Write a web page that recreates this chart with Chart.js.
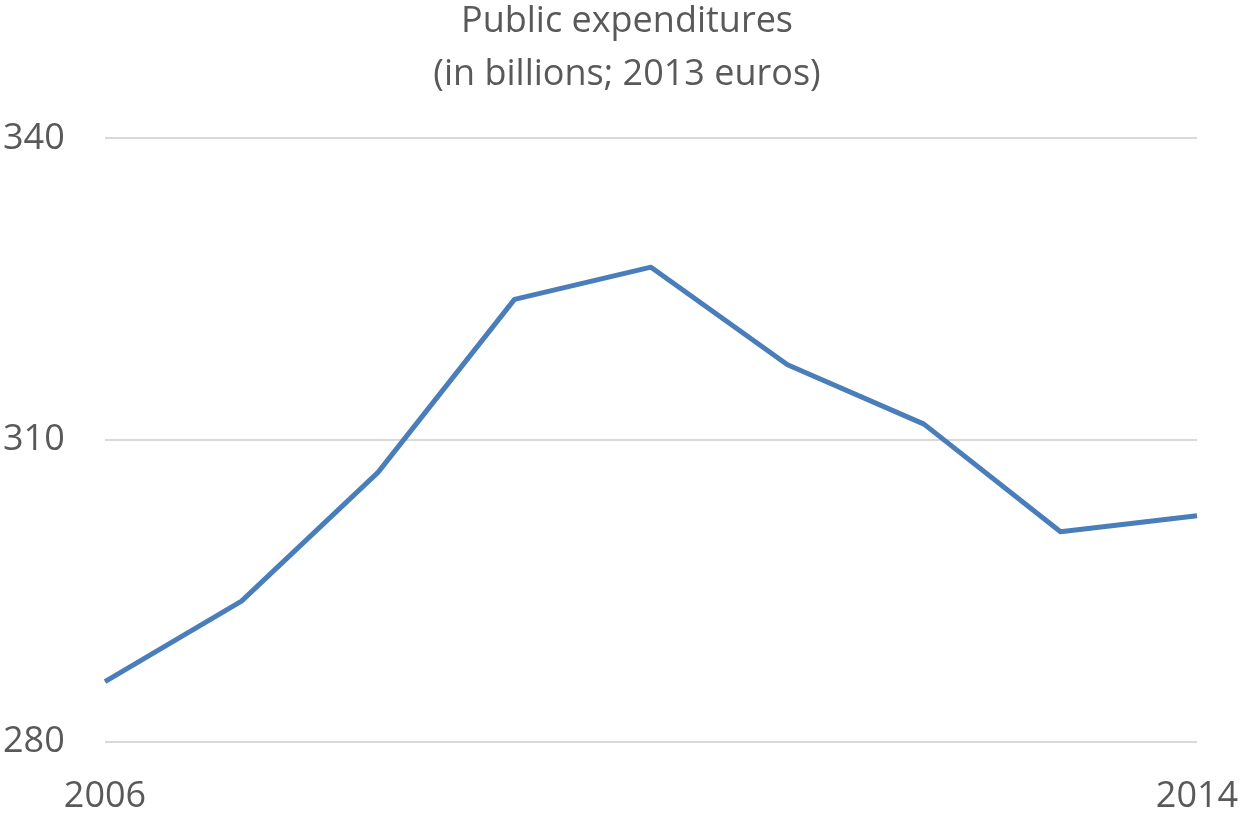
<!DOCTYPE html>
<html>
<head>
<meta charset="utf-8">
<title>Public expenditures</title>
<script src="https://cdn.jsdelivr.net/npm/chart.js@4"></script>
<style>
  html, body { margin: 0; padding: 0; background: #fff; }
  canvas { display: block; }
</style>
</head>
<body>
<canvas id="expChart" width="1244" height="815"></canvas>
<script>
const years = ['2006', '2007', '2008', '2009', '2010', '2011', '2012', '2013', '2014'];
const spending = [286.0, 294.0, 306.8, 324.0, 327.2, 317.5, 311.6, 300.9, 302.5];
const yTicks = [280, 310, 340];

const textColor = '#595959';
const fontFamily = '"Open Sans", "Liberation Sans", sans-serif';

// the original title sits a little right of the canvas centre
const nudgeTitle = {
    id: 'nudgeTitle',
    afterLayout(chart) {
        const t = chart.titleBlock;
        if (t) {
            t.left += 27;
            t.right += 27;
        }
    }
};

const ctx = document.getElementById('expChart');

new Chart(ctx, {
    type: 'line',
    data: {
        labels: years,
        datasets: [{
            label: 'Public expenditures',
            data: spending,
            borderColor: '#4A7EBB',
            borderWidth: 5,
            borderJoinStyle: 'round',
            pointRadius: 0,
            tension: 0,
            fill: false,
        }]
    },
    options: {
        responsive: false,
        animation: false,
        devicePixelRatio: 1,
        layout: {
            padding: { left: 3, right: 47, top: 0, bottom: 0 }
        },
        plugins: {
            legend: { display: false },
            tooltip: { enabled: false },
            title: {
                display: true,
                text: ['Public expenditures', '(in billions; 2013 euros)'],
                color: textColor,
                font: { family: fontFamily, size: 36, weight: 'normal', lineHeight: 1.45 },
                padding: { top: -4, bottom: 38 }
            }
        },
        scales: {
            x: {
                type: 'category',
                offset: false,
                grid: { display: false, drawTicks: false },
                border: { display: false },
                ticks: {
                    color: textColor,
                    font: { family: fontFamily, size: 36 },
                    autoSkip: false,
                    maxRotation: 0,
                    padding: 33,
                    callback: function (value, index) {
                        return (index === 0 || index === years.length - 1) ? years[index] : '';
                    }
                },
                afterFit: function (axis) {
                    axis.height = 73;
                    axis.paddingLeft = 0;
                    axis.paddingRight = 0;
                }
            },
            y: {
                min: yTicks[0],
                max: yTicks[yTicks.length - 1],
                afterBuildTicks: function (axis) {
                    axis.ticks = yTicks.map(v => ({ value: v }));
                },
                grid: { color: '#D9D9D9', lineWidth: 2, drawTicks: false },
                border: { display: false },
                ticks: {
                    color: textColor,
                    font: { family: fontFamily, size: 36 },
                    crossAlign: 'far',
                    padding: 40
                },
                afterFit: function (axis) { axis.width = 102; }
            }
        }
    },
    plugins: [nudgeTitle]
});
</script>
</body>
</html>
